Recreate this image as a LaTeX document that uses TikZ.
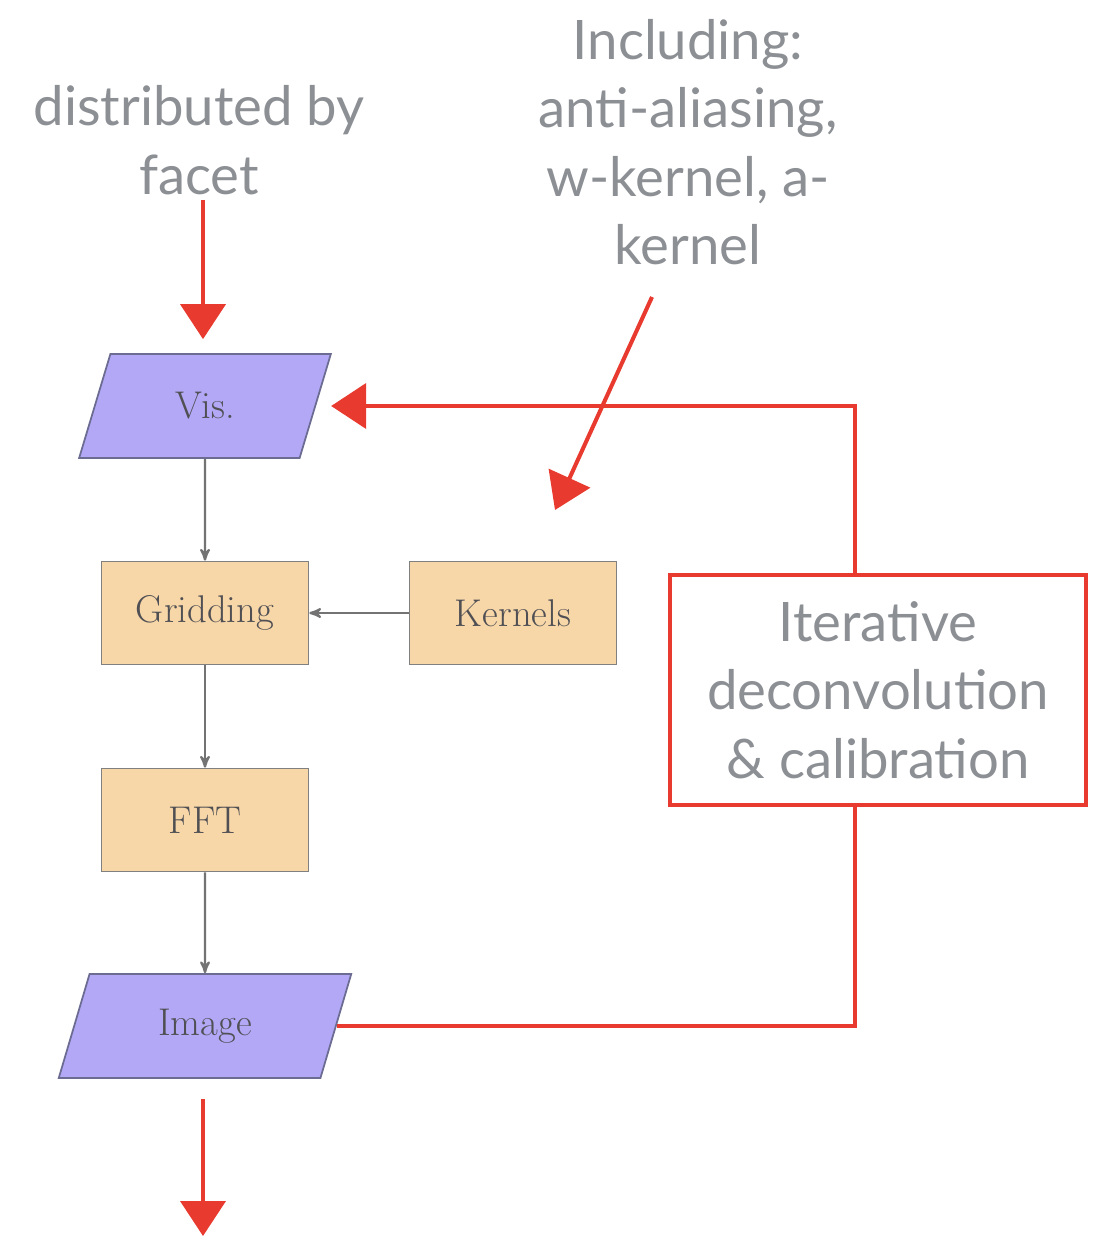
\documentclass[tikz,border=0pt]{standalone}
\usepackage{fontspec}
\usepackage{tikz}
\usetikzlibrary{arrows,arrows.meta,positioning,shapes.geometric}
\newfontfamily\handfont{Lato}
\definecolor{visblue}{RGB}{178,168,246}
\definecolor{boxtan}{RGB}{247,214,168}
\definecolor{noteRed}{RGB}{232,58,46}
\definecolor{noteGray}{RGB}{140,143,147}
\definecolor{txtGray}{RGB}{80,80,84}
\tikzset{>=stealth',
         data/.style={trapezium, trapezium left angle=73,
           trapezium right angle=107, trapezium stretches=true,
           draw=gray!85!blue, line width=1pt, fill=visblue,
           minimum width=5.04cm, minimum height=2.08cm, text=txtGray,
           font=\fontsize{22}{26}\selectfont},
         process/.style={rectangle, draw=gray, line width=1pt, fill=boxtan,
           minimum width=4.14cm, minimum height=2.06cm, text=txtGray,
           font=\fontsize{22}{26}\selectfont},
         flow/.style={->, draw=gray!90!black, line width=1.3pt},
         note/.style={align=center, text=noteGray,
           font=\handfont\fontsize{31}{39}\selectfont},
         redline/.style={draw=noteRed, line width=2.3pt},
         redarrow/.style={redline, -{Triangle[length=0.7cm,width=0.9cm]}},
         iterbox/.style={note, rectangle, redline, minimum width=8.34cm,
           minimum height=4.6cm}}

\begin{document}
\begin{tikzpicture}[x=0.02cm,y=-0.02cm]
  \useasboundingbox (0,0) rectangle (1096,1236);
  % flow chart
  \node[data] (vis) at (205,406) {Vis.};
  \node[process] (grid) at (205,613) {Gridding};
  \node[process] (kern) at (513,613) {Kernels};
  \node[process] (fft) at (205,820) {FFT};
  \node[data, minimum width=5.88cm] (img) at (205,1026) {Image};
  \draw[flow] (vis) -- (grid);
  \draw[flow] (grid) -- (fft);
  \draw[flow] (fft) -- (img);
  \draw[flow] (kern) -- (grid);
  % notes
  \node[iterbox] (iter) at (878,690) {Iterative\\deconvolution\\\& calibration};
  \node[note] (dist) at (199,140) {distributed by\\facet};
  \node[note] (incl) at (688,142) {Including:\\anti-aliasing,\\w-kernel, a-\\kernel};
  \coordinate (fstart) at (203,200);
  \coordinate (kstart) at (652,297);
  \coordinate (ktip) at (555,510);
  \coordinate (out) at (203,1236);
  \draw[redline] (img.east) -| ([xshift=-0.46cm]iter.south);
  \draw[redarrow, shorten >=0.3cm] ([xshift=-0.46cm]iter.north) |- (vis.east);
  \draw[redarrow, shorten >=0.28cm] (fstart) -- (fstart |- vis.north);
  \draw[redarrow] (kstart) -- (ktip);
  \draw[redarrow, shorten <=0.4cm] (img.south -| out) -- (out);
\end{tikzpicture}
\end{document}
